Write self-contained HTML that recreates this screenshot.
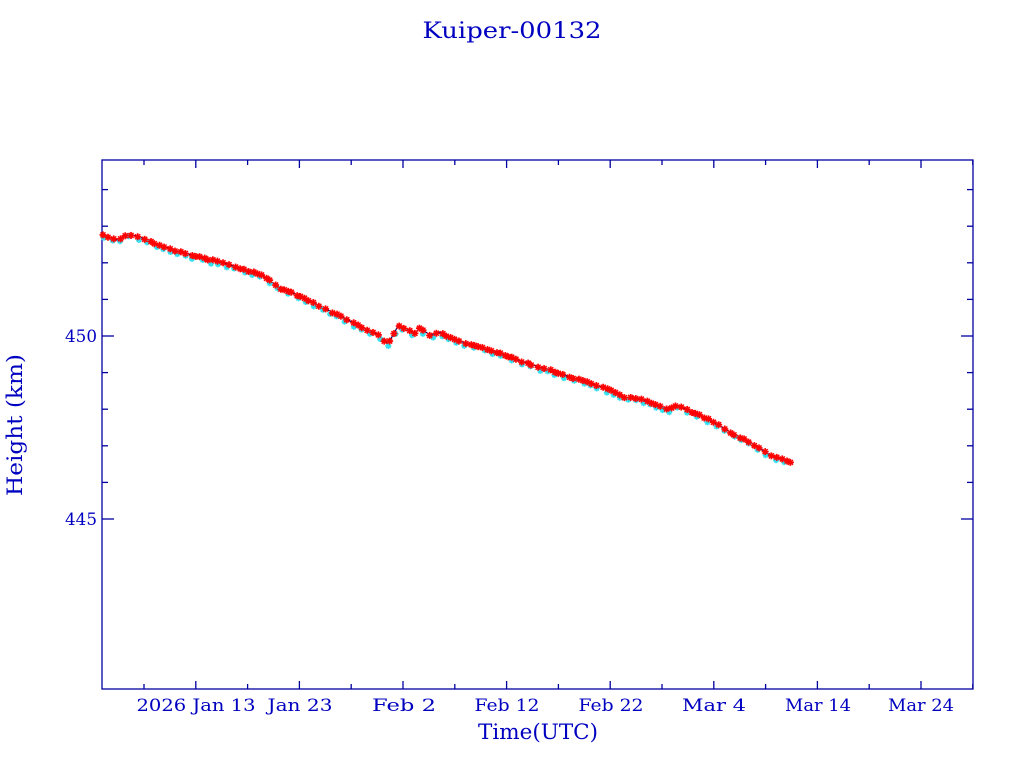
<!DOCTYPE html>
<html><head><meta charset="utf-8"><style>
html,body{margin:0;padding:0;background:#fff;}
svg{display:block;font-family:"DejaVu Serif","Liberation Serif",serif;}
</style></head><body>
<svg id="s" width="1024" height="768" xmlns="http://www.w3.org/2000/svg">
<text x="512" y="38" font-size="22" fill="#0000c0" text-anchor="middle" textLength="179" lengthAdjust="spacingAndGlyphs">Kuiper-00132</text>
<rect x="102" y="160" width="871" height="529" fill="none" stroke="#0000a0" stroke-width="1.3"/>
<g id="ticks" stroke="#0000a0" stroke-width="1.3"></g>
<g font-size="17" fill="#0000c0" text-anchor="middle" lengthAdjust="spacingAndGlyphs">
<text x="196" y="711" textLength="119" lengthAdjust="spacingAndGlyphs">2026 Jan 13</text>
<text x="300" y="711" textLength="65" lengthAdjust="spacingAndGlyphs">Jan 23</text>
<text x="404" y="711" textLength="64" lengthAdjust="spacingAndGlyphs">Feb  2</text>
<text x="507" y="711" textLength="65" lengthAdjust="spacingAndGlyphs">Feb 12</text>
<text x="611" y="711" textLength="65" lengthAdjust="spacingAndGlyphs">Feb 22</text>
<text x="714" y="711" textLength="64" lengthAdjust="spacingAndGlyphs">Mar  4</text>
<text x="818" y="711" textLength="66" lengthAdjust="spacingAndGlyphs">Mar 14</text>
<text x="921" y="711" textLength="66" lengthAdjust="spacingAndGlyphs">Mar 24</text>
<text x="538" y="739" font-size="21" textLength="120" lengthAdjust="spacingAndGlyphs">Time(UTC)</text>
<text x="81" y="342" textLength="32" lengthAdjust="spacingAndGlyphs">450</text>
<text x="81" y="525" textLength="32" lengthAdjust="spacingAndGlyphs">445</text>
<text transform="translate(22,425) rotate(-90)" font-size="21" textLength="142" lengthAdjust="spacingAndGlyphs">Height (km)</text>
</g>
<g id="data"></g>
</svg>
<script>
var NS="http://www.w3.org/2000/svg",t=document.getElementById('ticks'),d=document.getElementById('data');
function ln(g,x1,y1,x2,y2,c,w){var l=document.createElementNS(NS,'line');l.setAttribute('x1',x1);l.setAttribute('y1',y1);l.setAttribute('x2',x2);l.setAttribute('y2',y2);if(c){l.setAttribute('stroke',c);l.setAttribute('stroke-width',w||1.5);}g.appendChild(l);}
for(var i=0;i<17;i++){var x=144+i*51.8,L=(i%2)?8:5;ln(t,x,689,x,689-L);ln(t,x,160,x,160+L);}
for(var k=-5;k<=9;k++){var y=336-36.6*k;if(y<=160||y>=689)continue;var L=(k%5==0)?12:6;ln(t,102,y,102+L,y);ln(t,973,y,973-L,y);}
var P=[[102,234],[117,240],[128,234],[140,237],[160,245],[180,252],[200,257],[220,262],[240,268],[262,275],[280,288],[300,296],[320,306],[340,316],[360,326],[380,336],[388,344],[398,326],[405,328],[415,333],[420,328],[430,335],[440,332],[455,340],[470,344],[490,350],[510,357],[530,364],[550,370],[570,377],[590,383],[610,390],[625,398],[633,397],[645,400],[660,406],[668,410],[676,405],[690,411],[710,420],[730,432],[750,442],[770,455],[793,463]];
function yat(x){for(var i=1;i<P.length;i++)if(x<=P[i][0]){var a=P[i-1],b=P[i];return a[1]+(b[1]-a[1])*(x-a[0])/(b[0]-a[0]);}return P[P.length-1][1];}
var pl=document.createElementNS(NS,'polyline');pl.setAttribute('points',P.map(function(p){return p.join(',')}).join(' '));pl.setAttribute('fill','none');pl.setAttribute('stroke','#000060');pl.setAttribute('stroke-width','1.2');d.appendChild(pl);
function star(x,y,c,r){ln(d,x-r,y,x+r,y,c,1.7);ln(d,x,y-r,x,y+r,c,1.7);var q=r*0.72;ln(d,x-q,y-q,x+q,y+q,c,1.5);ln(d,x-q,y+q,x+q,y-q,c,1.5);}
var s=7;function rnd(){s=(s*9301+49297)%233280;return s/233280;}
for(var x=104;x<=792;x+=6+rnd()*5){star(x,yat(x)+2+rnd()*2,'#30e0f0',3);}
for(var x=103;x<=794;x+=3+rnd()*4){star(x,yat(x)-0.5+rnd()*1.5,'#ff0000',3.5);}
</script>
</body></html>
